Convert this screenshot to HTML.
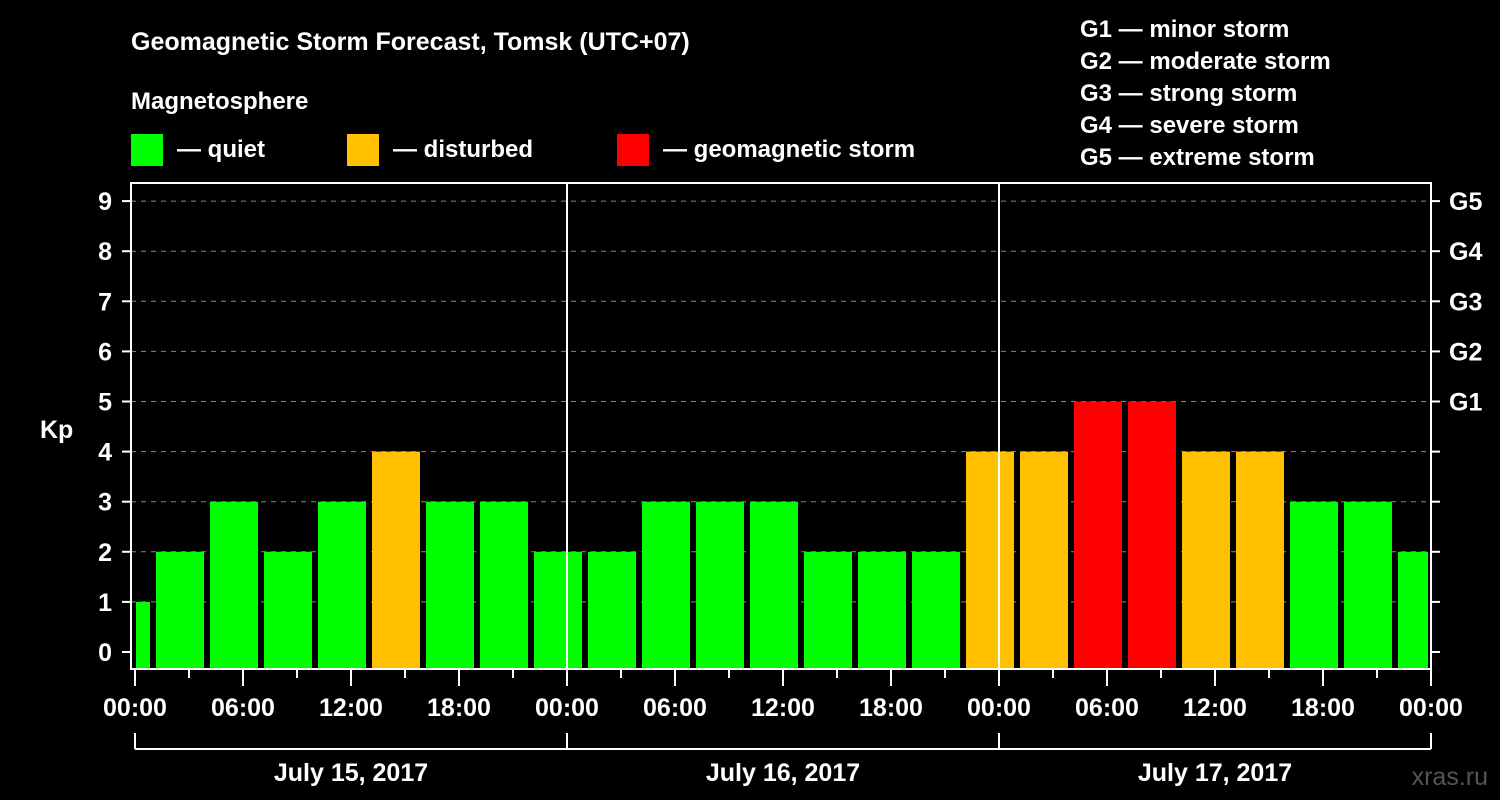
<!DOCTYPE html>
<html><head><meta charset="utf-8"><style>
body{margin:0;background:#000;}
svg{display:block;font-family:"Liberation Sans",Arial,sans-serif;font-weight:bold;}
</style></head><body>
<svg id="chart" width="1500" height="800" viewBox="0 0 1500 800">
<rect width="1500" height="800" fill="#000"/>
<text x="131" y="50" fill="#fff" font-size="25">Geomagnetic Storm Forecast, Tomsk (UTC+07)</text>
<text x="131" y="109" fill="#fff" font-size="24">Magnetosphere</text>
<g><rect x="131" y="134" width="32" height="32" fill="#00ff00"/><text x="177" y="157" fill="#fff" font-size="24">— quiet</text></g>
<g><rect x="347" y="134" width="32" height="32" fill="#ffc000"/><text x="393" y="157" fill="#fff" font-size="24">— disturbed</text></g>
<g><rect x="617" y="134" width="32" height="32" fill="#ff0000"/><text x="663" y="157" fill="#fff" font-size="24">— geomagnetic storm</text></g>
<g fill="#fff" font-size="24">
<text x="1080" y="37">G1 — minor storm</text>
<text x="1080" y="69">G2 — moderate storm</text>
<text x="1080" y="101">G3 — strong storm</text>
<text x="1080" y="133">G4 — severe storm</text>
<text x="1080" y="165">G5 — extreme storm</text>
</g>
<text x="40" y="438" fill="#fff" font-size="25">Kp</text>
<text x="1488" y="785" fill="#555" font-size="25" text-anchor="end" font-weight="normal">xras.ru</text>
<g id="grid"></g><g id="bars"></g><g id="axes"></g>
</svg>
<script>
const kpValues=[1,2,3,2,3,4,3,3,2,2,3,3,3,2,2,2,4,4,5,5,4,4,3,3,2];
const binStartHours=[-2,1,4,7,10,13,16,19,22,25,28,31,34,37,40,43,46,49,52,55,58,61,64,67,70];
const yTicks=[0,1,2,3,4,5,6,7,8,9];
const gLabels=["G1","G2","G3","G4","G5"];
const hourLabels=["00:00","06:00","12:00","18:00","00:00","06:00","12:00","18:00","00:00","06:00","12:00","18:00","00:00"];
const dateLabels=["July 15, 2017","July 16, 2017","July 17, 2017"];
const NS="http://www.w3.org/2000/svg";
const X0=135,PX=18,Y0=652,PY=50.1,TOP=183,BOT=669,XL=131,XR=1431;
const x=h=>X0+h*PX, y=v=>Y0-v*PY;
function mk(tag,attrs,parent,text){const e=document.createElementNS(NS,tag);for(const k in attrs)e.setAttribute(k,attrs[k]);if(text!==undefined)e.textContent=text;document.getElementById(parent).appendChild(e);return e;}
yTicks.forEach(v=>{
 if(v>=1){const g=mk('line',{x1:XL,x2:XR,y1:y(v),y2:y(v),stroke:'#888','stroke-dasharray':'5,5','stroke-width':1},'grid');
 
 }
 const t=mk('line',{x1:XL-9,x2:XL,y1:y(v),y2:y(v),stroke:'#fff','stroke-width':2},'axes');
 
 
 const t2=mk('line',{x1:XR,x2:XR+9,y1:y(v),y2:y(v),stroke:'#fff','stroke-width':2},'axes');
 
 
 const l=mk('text',{x:112,y:y(v)+9,fill:'#fff','font-size':25,'text-anchor':'end'},'axes',String(v));
 
 
 if(v>=5){const gl=mk('text',{x:1449,y:y(v)+9,fill:'#fff','font-size':25},'axes',gLabels[v-5]);
 
 }
});
kpValues.forEach((v,i)=>{
 let s=x(binStartHours[i])+3,e=x(binStartHours[i]+3)-3;
 s=Math.max(s,X0+1);e=Math.min(e,XR-3);
 const c=v>=5?'#ff0000':(v>=4?'#ffc000':'#00ff00');
 const b=mk('rect',{x:s,y:y(v),width:e-s,height:BOT-y(v),fill:c},'bars');
 
 
});
const frame=mk('path',{d:`M${XL} ${BOT}V${TOP}H${XR}V${BOT}Z`,fill:'none',stroke:'#fff','stroke-width':2},'axes');


[24,48].forEach(h=>{const d=mk('line',{x1:x(h),x2:x(h),y1:TOP,y2:BOT,stroke:'#fff','stroke-width':2},'axes');
 
 });
for(let h=0;h<=72;h+=3){const major=h%6===0;
 const t=mk('line',{x1:x(h),x2:x(h),y1:BOT,y2:major?686:678,stroke:'#fff','stroke-width':2},'axes');
 
 }
hourLabels.forEach((l,i)=>{const t=mk('text',{x:x(i*6),y:716,fill:'#fff','font-size':25,'text-anchor':'middle'},'axes',l);
 
 });
const br=mk('line',{x1:x(0),x2:x(72),y1:749,y2:749,stroke:'#fff','stroke-width':2},'axes');


[0,24,48,72].forEach(h=>{const t=mk('line',{x1:x(h),x2:x(h),y1:733,y2:749,stroke:'#fff','stroke-width':2},'axes');
 
 });
dateLabels.forEach((l,i)=>{const t=mk('text',{x:x(i*24+12),y:781,fill:'#fff','font-size':25,'text-anchor':'middle'},'axes',l);
 
 });
</script>
</body></html>
